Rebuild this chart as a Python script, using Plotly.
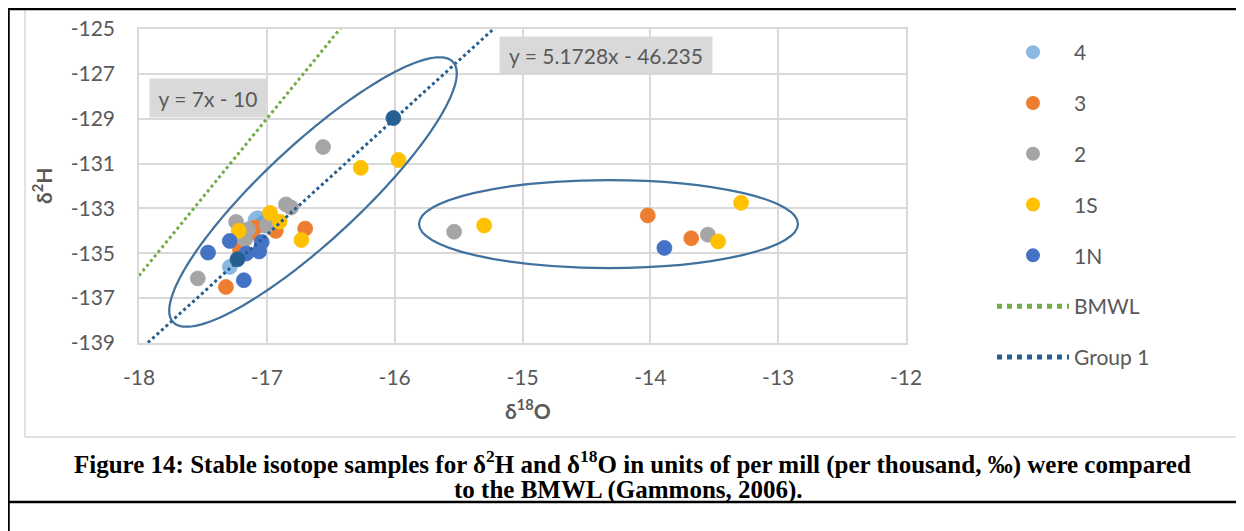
import numpy as np
import plotly.graph_objects as go

# page is 1244x531, the browser body adds an 8px margin
OFF = 8
W, H = 1244 - OFF, 531 - OFF

# ---------------- data ----------------
s4_x = [-17.07, -17.02, -17.29]
s4_y = [-133.55, -133.70, -135.61]
s3_x = [-17.09, -17.12, -17.21, -16.93, -16.70, -17.32, -14.02, -13.68]
s3_y = [-133.85, -134.10, -134.85, -134.00, -133.90, -136.50, -133.31, -134.33]
s2_x = [-17.24, -17.145, -17.17, -17.00, -16.85, -16.81, -16.56, -17.54, -15.535, -13.55]
s2_y = [-133.60, -133.93, -134.38, -133.76, -132.82, -132.96, -130.26, -136.12, -134.04, -134.17]
s1s_x = [-17.22, -16.975, -16.90, -16.73, -16.265, -15.97, -15.30, -13.47, -13.29]
s1s_y = [-134.00, -133.20, -133.59, -134.41, -131.19, -130.84, -133.76, -134.47, -132.75]
s1n_x = [-17.29, -17.46, -17.04, -17.06, -17.16, -17.18, -13.89]
s1n_y = [-134.45, -134.97, -134.50, -134.92, -135.01, -136.20, -134.76]
g1_x = [-16.01, -17.23]
g1_y = [-128.97, -135.27]

bmwl_slope, bmwl_intercept = 7.0, -10.0
g1_slope, g1_intercept = 5.1728, -46.235
line_x = [-18.0, -12.0]

x_ticks = [-18, -17, -16, -15, -14, -13, -12]
y_ticks = [-139, -137, -135, -133, -131, -129, -127, -125]

# ---------------- layout geometry (page pixels) ----------------
PL, PR, PT, PB = 139, 906, 29, 343
XR = (-18, -12)
YR = (-139, -125)
ppx = (PR - PL) / (XR[1] - XR[0])
ppy = (PB - PT) / (YR[1] - YR[0])


def px2data(px, py):
    return XR[0] + (px - PL) / ppx, YR[1] - (py - PT) / ppy


def pxp(px):
    return (px - OFF) / W


def pyp(py):
    return 1 - (py - OFF) / H


FONT = "Lato"
TXT = "#595959"

fig = go.Figure()

series = [
    ("4", s4_x, s4_y, "#5B9BD5", [20, 18, 15]),
    ("3", s3_x, s3_y, "#ED7D31", 15),
    ("2", s2_x, s2_y, "#A5A5A5", 15),
    ("1S", s1s_x, s1s_y, "#FFC000", 15),
    ("1N", s1n_x, s1n_y, "#4472C4", 15),
]
for name, xs, ys, col, sz in series:
    fig.add_trace(go.Scatter(
        x=xs, y=ys, mode="markers", name=name, legendgroup=name,
        marker=dict(color=col, size=sz, line=dict(color=col, width=0.75)),
    ))

fig.add_trace(go.Scatter(
    x=g1_x, y=g1_y, mode="markers", showlegend=False,
    marker=dict(color="#255E91", size=15, line=dict(color="#255E91", width=0.75)),
))

fig.add_trace(go.Scatter(
    x=line_x, y=[bmwl_slope * v + bmwl_intercept for v in line_x],
    mode="lines", name="BMWL", legendgroup="BMWL",
    line=dict(color="#70AD47", width=3, dash="dot"),
))
fig.add_trace(go.Scatter(
    x=line_x, y=[g1_slope * v + g1_intercept for v in line_x],
    mode="lines", name="Group 1", legendgroup="Group 1",
    line=dict(color="#255E91", width=3, dash="dot"),
))

# ---------------- ellipses ----------------
shapes = []
cx, cy, a, b = 313, 192, 191, 48
ux, uy = 0.733, -0.681
vx, vy = 0.681, 0.733
t = np.linspace(0, 2 * np.pi, 181)
pts = []
for tt in t:
    px = cx + a * np.cos(tt) * ux + b * np.sin(tt) * vx
    py = cy + a * np.cos(tt) * uy + b * np.sin(tt) * vy
    pts.append(px2data(px, py))
path = "M " + " L ".join(f"{x:.4f},{y:.4f}" for x, y in pts) + " Z"
shapes.append(dict(type="path", xref="x", yref="y", path=path,
                   line=dict(color="#41719C", width=2.25)))
ex0, ey0 = px2data(419, 180)
ex1, ey1 = px2data(798, 268)
shapes.append(dict(type="circle", xref="x", yref="y", x0=ex0, x1=ex1, y0=ey1, y1=ey0,
                   line=dict(color="#41719C", width=2.25)))


def pline(x0, y0, x1, y1, color, width):
    shapes.append(dict(type="line", xref="paper", yref="paper",
                       x0=pxp(x0), y0=pyp(y0), x1=pxp(x1), y1=pyp(y1),
                       line=dict(color=color, width=width), layer="below"))


pline(25, 9, 25, 437, "#D9D9D9", 1.5)
pline(1237, 9, 1237, 437, "#D9D9D9", 1.5)
pline(25, 437, 1237, 437, "#D9D9D9", 1.5)
pline(8, 9, 1244, 9, "#000000", 2.5)
pline(8.5, 9, 8.5, 531, "#000000", 2.5)
pline(1242, 9, 1242, 531, "#000000", 2.5)
pline(8, 502, 1244, 502, "#000000", 2.5)

CAP = "Liberation Serif"


def ann(text, x, y, size, family, color, **kw):
    d = dict(text=text, x=pxp(x), y=pyp(y), xref="paper", yref="paper",
             xanchor="center", yanchor="middle", showarrow=False,
             font=dict(family=family, size=size, color=color))
    d.update(kw)
    return d


annotations = [
    ann("y = 7x - 10", 208, 98, 21, FONT, TXT, bgcolor="#D9D9D9",
        width=112, height=34, borderpad=2),
    ann("y = 5.1728x - 46.235", 606, 56, 21, FONT, TXT, bgcolor="#D9D9D9",
        width=208, height=33, borderpad=2),
    ann("<b>δ<sup>2</sup>H</b>", 42, 186, 21, FONT, TXT, textangle=-90),
    ann("<b>δ<sup>18</sup>O</b>", 528, 409, 21, FONT, TXT),
    ann("<b>Figure 14: Stable isotope samples for δ<sup>2</sup>H and δ<sup>18</sup>O in units of per mill (per thousand, ‰) were compared</b>",
        632, 462, 25, CAP, "#000000"),
    ann("<b>to the BMWL (Gammons, 2006).</b>", 628, 490, 25, CAP, "#000000"),
]

axis_common = dict(showgrid=True, gridcolor="#D9D9D9", gridwidth=1.5, automargin=False,
                   showline=True, linecolor="#D9D9D9", linewidth=1.5, mirror=True,
                   zeroline=False, ticks="", tickfont=dict(family=FONT, size=21, color=TXT))

fig.update_layout(
    width=W, height=H,
    margin=dict(l=0, r=0, t=0, b=0, pad=0, autoexpand=False),
    paper_bgcolor="white", plot_bgcolor="white",
    xaxis=dict(range=list(XR), domain=[pxp(PL), pxp(PR)], tickvals=x_ticks,
               ticktext=[str(v) for v in x_ticks], ticklabelstandoff=15, **axis_common),
    yaxis=dict(range=list(YR), domain=[pyp(PB), pyp(PT)], tickvals=y_ticks,
               ticktext=[str(v) for v in y_ticks], ticklabelstandoff=18, **axis_common),
    legend=dict(x=pxp(992), y=pyp(32), xanchor="left", yanchor="top",
                font=dict(family=FONT, size=21, color=TXT), tracegroupgap=20.5,
                itemwidth=72, itemsizing="constant", bgcolor="rgba(0,0,0,0)"),
    shapes=shapes, annotations=annotations,
    showlegend=True,
)

fig.write_html("out.html")
